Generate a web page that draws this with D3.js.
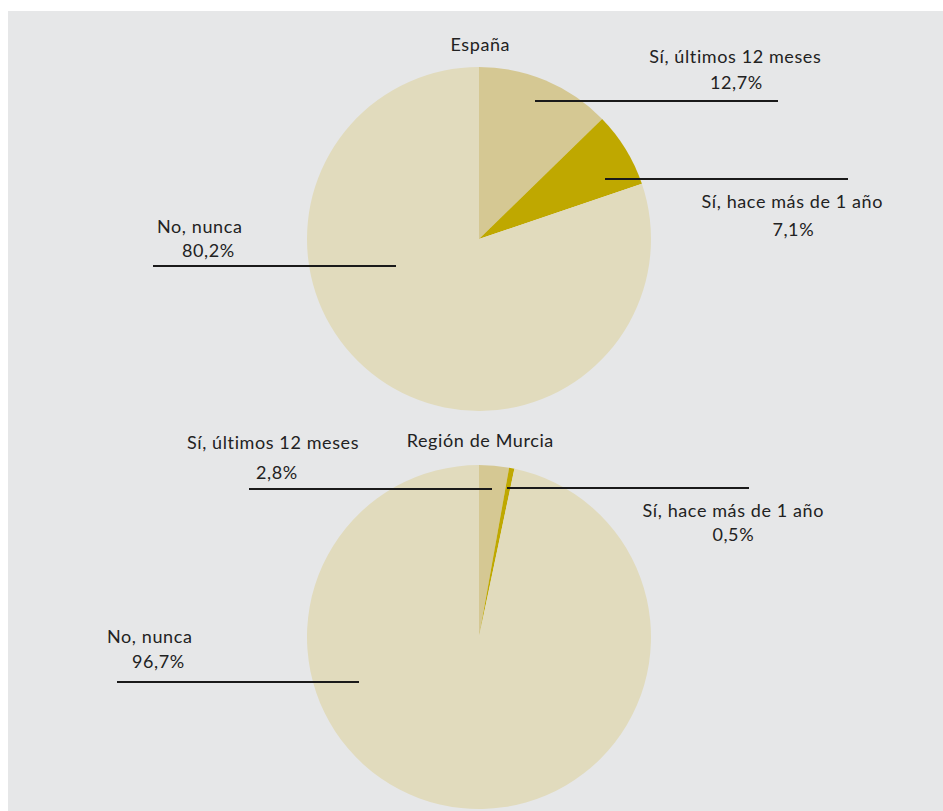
<!DOCTYPE html>
<html><head><meta charset="utf-8">
<script src="https://cdn.jsdelivr.net/npm/d3@7/dist/d3.min.js"></script>
<style>body{margin:0;background:#fff;}svg{display:block;}</style>
</head><body>
<svg id="chart" width="943" height="811"></svg>
<script>
// ---- data ----
const regions = ["España", "Región de Murcia"];
const categories = ["Sí, últimos 12 meses", "Sí, hace más de 1 año", "No, nunca"];
const valuesEspana = [12.7, 7.1, 80.2];
const valuesMurcia = [2.8, 0.5, 96.7];
const valueLabelsEspana = ["12,7%", "7,1%", "80,2%"];
const valueLabelsMurcia = ["2,8%", "0,5%", "96,7%"];
const colors = ["#d5c893", "#bfa800", "#e1dbbd"];

// ---- layout (offsets relative to pie centre) ----
const layouts = [
  { cx: 479, cy: 239, title: [480, 51], labels: [
    { name: [735, 63], val: [736, 89], line: [56, -138, 299, -138], anchor: "middle" },
    { name: [792, 208], val: [793, 236], line: [126, -60, 369, -60], anchor: "middle" },
    { name: [157, 233], val: [182, 257], line: [-326, 27, -83, 27], anchor: "start" }
  ]},
  { cx: 479, cy: 637, title: [480, 447], labels: [
    { name: [187, 449], val: [256, 479], line: [-230, -148, 13, -148], anchor: "start" },
    { name: [733, 517], val: [733, 541], line: [28, -149, 270, -149], anchor: "middle" },
    { name: [107, 643], val: [132, 668], line: [-362, 45, -120, 45], anchor: "start" }
  ]}
];
const radius = 172;

const svg = d3.select("#chart");
svg.append("rect").attr("x", 8).attr("y", 11).attr("width", 935).attr("height", 800).attr("fill", "#e6e7e8");

const pie = d3.pie().sort(null).value(d => d);
const arc = d3.arc().innerRadius(0).outerRadius(radius);
const font = "Lato, 'Open Sans', sans-serif";

function addText(x, y, anchor, str) {
  const ls = 0.6;
  svg.append("text").attr("x", anchor === "middle" ? x + ls / 2 : x).attr("y", y)
    .attr("text-anchor", anchor).attr("font-family", font).attr("font-size", 18)
    .attr("font-weight", 400).attr("letter-spacing", ls)
    .attr("fill", "#222").text(str);
}

[valuesEspana, valuesMurcia].forEach((vals, i) => {
  const L = layouts[i];
  const vlabels = i === 0 ? valueLabelsEspana : valueLabelsMurcia;
  const g = svg.append("g").attr("transform", `translate(${L.cx},${L.cy})`);
  g.selectAll("path").data(pie(vals)).join("path")
    .attr("d", arc).attr("fill", (d, k) => colors[k]);

  addText(L.title[0], L.title[1], "middle", regions[i]);

  L.labels.forEach((lb, k) => {
    svg.append("line")
      .attr("x1", L.cx + lb.line[0]).attr("y1", L.cy + lb.line[1])
      .attr("x2", L.cx + lb.line[2]).attr("y2", L.cy + lb.line[3])
      .attr("stroke", "#1a1a1a").attr("stroke-width", 2);
    addText(lb.name[0], lb.name[1], lb.anchor, categories[k]);
    addText(lb.val[0], lb.val[1], lb.anchor, vlabels[k]);
  });
});
</script>
</body></html>
